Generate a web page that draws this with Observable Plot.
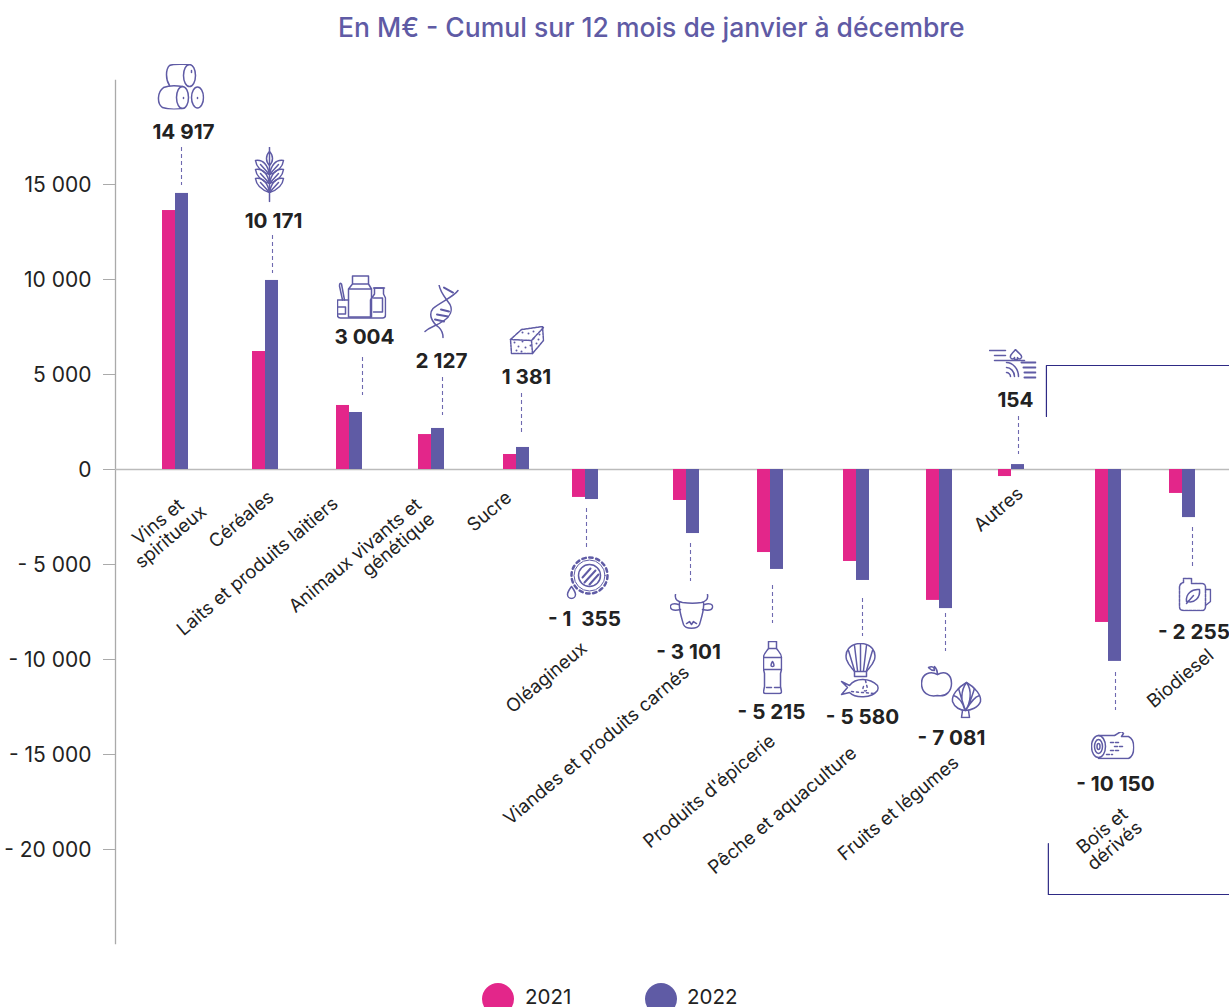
<!DOCTYPE html>
<html lang="fr">
<head>
<meta charset="utf-8">
<script src="https://cdn.jsdelivr.net/npm/d3@7"></script>
<script src="https://cdn.jsdelivr.net/npm/@observablehq/plot@0.6"></script>
<style>
html,body{margin:0;padding:0;background:#fff;overflow:hidden;width:1229px;height:1007px}
body{font-family:Inter,sans-serif;color:#222}
#title{height:55px;line-height:54px;padding-left:338px;font-size:26.5px;font-weight:500;color:#5f5ba5;white-space:nowrap}
#legend{position:relative;height:32px}
#legend i{position:absolute;top:8px;width:32px;height:32px;border-radius:50%}
#legend span{position:absolute;top:8px;font-size:20.5px;line-height:28px}
svg{display:block}
</style>
</head>
<body>
<div id="title">En M€ - Cumul sur 12 mois de janvier à décembre</div>
<div id="chart"></div>
<div id="legend"></div>
<script>
// ---------- data ----------
const categories = ["Vins et\nspiritueux","Céréales","Laits et produits laitiers","Animaux vivants et\ngénétique","Sucre","Oléagineux","Viandes et produits carnés","Produits d'épicerie","Pêche et aquaculture","Fruits et légumes","Autres","Bois et\ndérivés","Biodiesel"];
const values2021 = [13630,6210,3370,1840,790,-1470,-1630,-4370,-4840,-6890,-370,-8050,-1260];
const values2022 = [14530,9950,3000,2160,1160,-1580,-3370,-5260,-5840,-7320,260,-10100,-2530];
const balanceLabels = ["14 917","10 171","3 004","2 127","1 381","- 1  355","- 3 101","- 5 215","- 5 580","- 7 081","154","- 10 150","- 2 255"];
const yTicks = [15000,10000,5000,0,-5000,-10000,-15000,-20000];
const years = ["2021","2022"];

// ---------- layout (pixels; offsets from group centre / zero line) ----------
const C_2021 = "#e3268a", C_2022 = "#5f5ba5", C_TEXT = "#222";
const centres = [175,265,349,431,516,585,686,770,856,939,1011,1108,1182];
const PER5K = 95; // px per 5 000
const pxToVal = p => -p * 5000 / PER5K;
const catPos   = [[-11,60],[-24,50],[-92,97],[-70,93.5],[-27,42],[-39,208],[-90,276],[-61,322],[-74,341],[-41,339],[-13,40],[0,369],[-2,209]];
const catLineShift = {3:[0,40]}; // second line slides along the rotated baseline
const labelPos = [[8,-337],[8,-248],[15,-132],[10,-108],[10,-92],[-1,150],[2,183],[1,243],[6,248],[12,269],[4,-69],[7,315],[11.5,163]];
const leader   = [[6,-322,-284],[7,-234,-196],[13,-112,-74],[11,-92,-54],[5,-76,-37],[1,39,78],[4,74,112],[2,116,154],[6,129,167],[6,144,182],[7,-53,-15],[7,203,241],[10,58,97]];
const iconPos  = [[5,-383],[4,-295],[12,-173],[10,-157],[10,-129],[2,108],[5,142],[2,198],[4,202],[12,221],[1,-104],[4,276],[12,124]];
const iconSize = [[48,46],[32,56],[50,45],[35,56],[36,30],[44,44],[44,36],[20,54],[42,58],[62,56],[48,34],[44,28],[34,36]];
const bracketA = {x:[10.36,10.36,13], y:[2789,5474,5474]};
const bracketB = {x:[10.38,10.38,13], y:[-19684,-22368,-22368]};
const ROT = 40, CAT_FONT = 18.6, CAT_LEAD = 19.5;

// ---------- icons ----------
const ink = "#5f5ba5";
const svgIcon = (w,h,body) => "data:image/svg+xml," + encodeURIComponent(
 `<svg xmlns="http://www.w3.org/2000/svg" width="${w}" height="${h}" viewBox="0 0 ${w} ${h}" fill="none" stroke="${ink}" stroke-width="1.5" stroke-linecap="round" stroke-linejoin="round">${body}</svg>`);
const leafRows = [18,27,36].map(y =>
 `<path d="M16 ${y+10}C10 ${y+8} 3 ${y+4} 2 ${y-4}C9 ${y-5} 14 ${y} 16 ${y+10}Z"/><path d="M16 ${y+10}C22 ${y+8} 29 ${y+4} 30 ${y-4}C23 ${y-5} 18 ${y} 16 ${y+10}Z"/><path d="M7 ${y}L16 ${y+10}M25 ${y}L16 ${y+10}"/>`).join("");
const dnaRungs = [[20,3,29,8],[17,25,25,27],[13,30,24,32],[11,35,20,37]].map(r=>`<path d="M${r[0]} ${r[1]}L${r[2]} ${r[3]}" stroke-width="2"/>`).join("");
const sugarDots = [[6,17],[10,21],[14,16],[17,22],[8,25],[13,26],[22,20],[25,13],[28,18],[31,9],[30,14],[20,8],[14,7],[25,6]].map(p=>`<circle cx="${p[0]}" cy="${p[1]}" r="1" fill="${ink}" stroke="none"/>`).join("");
const icons = [
 svgIcon(48,46,`<ellipse cx="33" cy="12" rx="6" ry="11"/><path d="M33 1C24 1 18 0 13 2C9 6 9 16 13 22"/><ellipse cx="26" cy="34" rx="6" ry="11"/><path d="M26 23C20 22 12 22 7 24C1 28 0 40 6 44C12 46 20 46 26 45"/><ellipse cx="41" cy="34" rx="6" ry="10.5"/><path d="M35 7V9M27 34V35M41 34V35"/>`),
 svgIcon(32,56,`<path d="M16 1V55"/><path d="M16 5C12 9 12 15 16 19C20 15 20 9 16 5Z"/>`+leafRows),
 svgIcon(50,45,`<path d="M12 43V15L16 10V2H32V10L35 15V43ZM16 10H32M12 15H35"/><path d="M34 43V26L38 20V14H47V20L49 24V41Q49 44 46 44H4Q1 44 1 41V26H12"/><path d="M37 14H48M37 24H46V38H37"/><path d="M1 33H9V40H2M6 26L3 12Q3 8 5 10L8 26"/>`),
 svgIcon(35,56,`<path d="M34 6C30 12 16 18 9 24C4 30 8 38 15 43C18 46 19 49 19 53"/><path d="M15 0C16 8 22 14 26 20C29 26 26 32 20 36C12 42 6 42 1 47"/>`+dnaRungs),
 svgIcon(36,30,`<path d="M2 14L13 4L34 1L35 15L24 28L3 28Z" stroke-dasharray="2.5 1"/><path d="M2 14L23 15L24 28M23 15L35 2" stroke-dasharray="2.5 1"/>`+sugarDots),
 svgIcon(44,44,`<circle cx="24" cy="20" r="18" stroke-width="2.5" stroke-dasharray="3.5 3.5"/><circle cx="24" cy="20" r="15.5" stroke-width="1"/><circle cx="24" cy="20" r="11"/><path d="M17 22L25 13M19 27L30 15M24 29L33 19" stroke-width="2"/><path d="M6 31C3 35 2 37 2 39A4 4 0 0 0 10 39C10 37 9 35 6 31Z"/>`),
 svgIcon(44,36,`<path d="M6 1C5 6 8 8 13 9C20 10 26 10 32 9C36 8 39 6 38 1M10 9C9 16 12 24 14 31C16 36 28 36 30 31C32 24 35 16 34 9"/><path d="M9 11C4 9 0 11 1 14C2 17 7 17 11 16M35 11C40 9 44 11 43 14C42 17 37 17 33 16M17 30L20 28L22 31L24 28L27 30"/>`),
 svgIcon(20,54,`<path d="M6 1H14V8H6ZM6 8C4 11 1 13 1 17V29L2 33V46L1 51Q1 53 3 53H17Q19 53 19 51L18 46V33L19 29V17C19 13 16 11 14 8"/><path d="M1 17H19M1 29H19M4 47H9M12 47H17"/><path d="M10 21C8 24 8 26 10 26C12 26 12 24 10 21Z"/>`),
 svgIcon(42,58,`<path d="M21 1C10 1 5 9 7 17C9 23 13 26 15 29H27C29 26 33 23 35 17C37 9 32 1 21 1Z"/><path d="M21 2V28M15 3L18 28M27 3L24 28M9 8L15 28M33 8L27 28"/><path d="M15 29V34H27V29"/><path d="M2 39L8 45L2 52L10 50C16 56 32 56 38 48C39 46 39 45 38 43C30 35 16 35 10 43Z"/><path d="M24 44C22 48 26 50 28 47M26 38L28 46M12 49L34 51" stroke-dasharray="2 3"/>`),
 svgIcon(62,56,`<path d="M17 12C10 8 1 11 1 21C1 30 8 35 17 33C26 35 31 28 31 21C31 11 24 8 17 12Z"/><path d="M17 12C17 8 16 6 14 4M14 8C10 8 9 6 8 5C12 3 14 5 14 8"/><path d="M46 20C37 25 31 33 32 39C34 45 40 48 45 48C50 48 58 45 60 39C61 33 55 25 46 20Z"/><path d="M46 20C40 28 40 40 45 48C50 40 52 28 46 20ZM33 33C38 34 42 40 45 48M59 33C54 34 50 40 45 48M38 26C40 32 42 40 45 48M54 26C52 32 50 40 45 48"/><path d="M42 48L41 55H49L48 48"/>`),
 svgIcon(48,34,`<path d="M1 2H17M6 7H17M6 12H36"/><path d="M27 1C24 5 21 6 22 9C23 11 25 11 26 9V11H29V9C30 11 32 11 33 9C34 6 30 5 27 1Z"/><path d="M18 14C24 14 30 20 30 28M18 19C22 19 26 23 26 28M18 24C20 24 22 26 22 28"/><path d="M33 14H47M35 19H47M36 24H47M36 29H47" stroke-width="2"/>`),
 svgIcon(44,28,`<ellipse cx="8" cy="15" rx="7" ry="11"/><ellipse cx="8" cy="15" rx="4" ry="7"/><ellipse cx="8" cy="15" rx="1.5" ry="3"/><path d="M8 4H24C26 3 28 1 31 0L33 2L31 5H38C45 8 45 24 38 27H8"/><path d="M20 11H28M24 15H34M20 19H30M16 23H22" stroke-dasharray="3 2"/>`),
 svgIcon(34,36,`<path d="M6 3H14V8H24Q28 8 28 12V31Q28 35 24 35H6Q2 35 2 31V12Q2 8 6 7Z" stroke-dasharray="3 1"/><path d="M28 14H33V26L28 30"/><path d="M9 26C8 19 14 13 22 14C23 22 17 28 10 26ZM9 28L16 20"/>`)
];

// ---------- chart ----------
const idx = categories.map((_,i)=>i);
const fr = d3.formatLocale({thousands:" ",grouping:[3],decimal:","}).format(",d");
const tickFormat = d => d < 0 ? "- " + fr(-d) : fr(d);
const rows = idx.map(i=>({i,a:values2021[i],b:values2022[i]}));
const cosR = Math.cos(ROT*Math.PI/180), sinR = Math.sin(ROT*Math.PI/180);

const marks = [
 Plot.frame({anchor:"left",stroke:"#aaa",strokeWidth:1.3,strokeOpacity:1}),
 Plot.axisY({ticks:yTicks,tickSize:12,text:null,stroke:"#aaa",label:null,strokeOpacity:1}),
 Plot.axisY({ticks:yTicks,tickFormat,tickSize:0,tickPadding:24,dy:1,fill:C_TEXT,fontSize:21,label:null,fontVariant:"normal"}),
 Plot.ruleY([0],{stroke:"#bbb",strokeWidth:1.5}),
 Plot.rect(rows,{x1:"i",x2:"i",y1:0,y2:"a",fill:C_2021,insetLeft:-13,insetRight:0}),
 Plot.rect(rows,{x1:"i",x2:"i",y1:0,y2:"b",fill:C_2022,insetLeft:0,insetRight:-13}),
 Plot.line(bracketA.x.map((x,k)=>[x,bracketA.y[k]]),{stroke:"#2e2a85",strokeWidth:1.2}),
 Plot.line(bracketB.x.map((x,k)=>[x,bracketB.y[k]]),{stroke:"#2e2a85",strokeWidth:1.2})
];
idx.forEach(i=>{
 marks.push(
  Plot.ruleX([i],{dx:leader[i][0],y1:pxToVal(leader[i][1]),y2:pxToVal(leader[i][2]),stroke:"#6e69b0",strokeWidth:1.1,strokeDasharray:"4 3"}),
  Plot.text([i],{x:d=>d,y:0,dx:labelPos[i][0],dy:labelPos[i][1],text:()=>balanceLabels[i],fontSize:20.7,fontWeight:650,fill:C_TEXT,textAnchor:"middle"}),
  Plot.image([i],{x:d=>d,y:0,dx:iconPos[i][0],dy:iconPos[i][1],src:icons[i],width:iconSize[i][0],height:iconSize[i][1]})
 );
 const lines = categories[i].split("\n");
 lines.forEach((line,k)=>{
  const along = (catLineShift[i]||[])[k] || 0;
  const perp = (k-(lines.length-1)/2)*CAT_LEAD;
  marks.push(Plot.text([i],{x:d=>d,y:0,
   dx:catPos[i][0]+along*cosR+perp*sinR,
   dy:catPos[i][1]-along*sinR+perp*cosR,
   text:()=>line,fontSize:CAT_FONT,fill:C_TEXT,rotate:-ROT,textAnchor:"middle"}));
 });
});

const plot = Plot.plot({
 width:1229,height:920,marginTop:25,marginBottom:32,marginLeft:115,marginRight:0,
 style:{fontFamily:"Inter, sans-serif",background:"#fff",overflow:"visible"},
 x:{type:"linear",domain:[-1,...idx,13],range:[115,...centres,1229],axis:null},
 y:{domain:[-24947,20474],axis:null},
 marks
});
document.getElementById("chart").append(plot);

const lg = document.getElementById("legend");
const lgX = [[482,525],[645,687]];
years.forEach((y,k)=>{
 const c=document.createElement("i");c.style.left=lgX[k][0]+"px";c.style.background=k?C_2022:C_2021;lg.append(c);
 const s=document.createElement("span");s.style.left=lgX[k][1]+"px";s.textContent=y;lg.append(s);
});
</script>
</body>
</html>
